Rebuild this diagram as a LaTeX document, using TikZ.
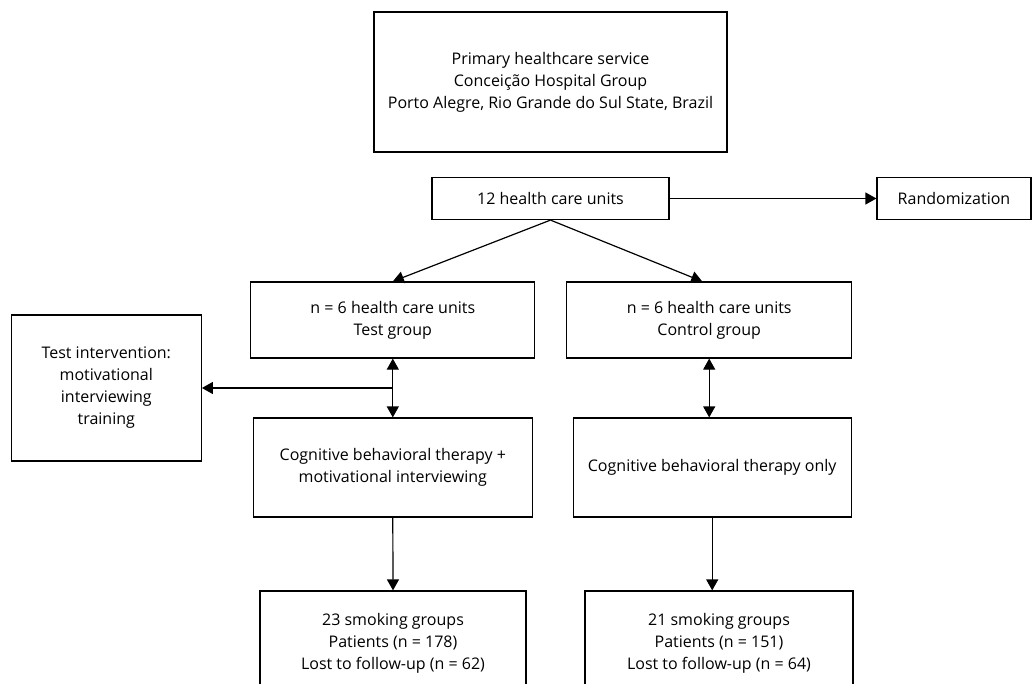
\documentclass[tikz,border=0pt]{standalone}
\usepackage{fontspec}
\setmainfont{Open Sans}
\usetikzlibrary{arrows.meta,calc}
\begin{document}
\begin{tikzpicture}[x=1pt,y=-1pt,
  box/.style={draw=black, line width=1.2pt, inner sep=0pt, align=center,
    font=\fontsize{16}{22}\selectfont},
  tip/.style={Triangle[length=11pt,width=12pt]},
  conn/.style={line width=1.2pt, -{Triangle[length=11pt,width=12pt]}},
  dconn/.style={line width=1.2pt, {Triangle[length=11pt,width=12pt]}-{Triangle[length=11pt,width=12pt]}}]
\useasboundingbox (0,0) rectangle (1032,684);
\clip (0,0) rectangle (1032,684);

\node[box, minimum width=353pt, minimum height=140pt] (top) at (550.5,82)
  {Primary healthcare service\\Conceição Hospital Group\\Porto Alegre, Rio Grande do Sul State, Brazil};
\node[box, minimum width=237pt, minimum height=42pt] (units) at (550.5,198.5) {12 health care units};
\node[box, minimum width=154pt, minimum height=42pt] (rand) at (954,198.5) {Randomization};
\node[box, minimum width=284pt, minimum height=76pt] (test) at (392.8,320)
  {n = 6 health care units\\Test group};
\node[box, minimum width=285pt, minimum height=76pt] (control) at (709.2,320)
  {n = 6 health care units\\Control group};
\node[box, minimum width=190pt, minimum height=146pt] (interv) at (106.3,388)
  {Test intervention:\\motivational\\interviewing\\training};
\node[box, minimum width=279pt, minimum height=99pt] (cbtmi) at (392.8,467.5)
  {Cognitive behavioral therapy +\\motivational interviewing};
\node[box, minimum width=278pt, minimum height=99pt] (cbt) at (712.2,467.5)
  {Cognitive behavioral therapy only};
\node[box, minimum width=266pt, minimum height=104pt] (s1) at (393,643)
  {23 smoking groups\\Patients (n = 178)\\Lost to follow-up (n = 62)};
\node[box, minimum width=268pt, minimum height=104pt] (s2) at (719,643)
  {21 smoking groups\\Patients (n = 151)\\Lost to follow-up (n = 64)};

\coordinate (ctip) at ($(control.north)+(-7,0)$);
\coordinate (branch) at (test.south |- interv.east);

\draw[conn] (units.east) -- (rand.west);
\draw[conn] (units.south) -- (test.north);
\draw[conn] (units.south) -- (ctip);
\draw[dconn] (test.south) -- (cbtmi.north);
\draw[conn] (branch) -- (interv.east);
\draw[dconn] (control.south) -- (control.south |- cbt.north);
\draw[conn] (cbtmi.south) -- (s1.north);
\draw[conn] (cbt.south) -- (cbt.south |- s2.north);
\end{tikzpicture}
\end{document}
